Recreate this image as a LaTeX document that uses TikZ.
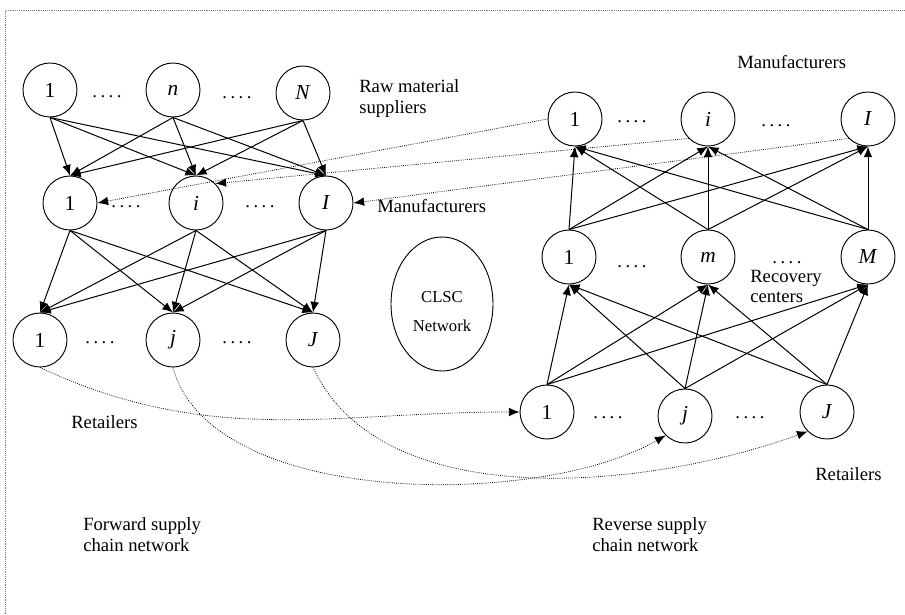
\documentclass[tikz,border=0pt]{standalone}
\usepackage{fontspec}
\setmainfont{Liberation Serif}
\usetikzlibrary{arrows.meta,shapes.geometric}

\tikzset{
	netnode/.style={draw, circle, minimum size=40.5pt, inner sep=0pt, line width=0.7pt, font=\fontsize{16}{18}\selectfont},
	flow/.style={-{Latex[length=8pt,width=6.5pt]}, line width=0.75pt},
	revlink/.style={-{Latex[length=8pt,width=6.5pt]}, densely dotted, line width=0.6pt},
	lbl/.style={anchor=north west, inner sep=0pt, align=left, font=\fontsize{14}{15.75}\selectfont},
	gap/.style={anchor=base, inner sep=0pt, font=\fontsize{14}{16}\selectfont},
	hub/.style={draw, ellipse, minimum width=76.5pt, minimum height=100.5pt, line width=0.7pt},
}
\newcommand{\fourdots}{.\kern2.6pt.\kern2.6pt.\kern2.6pt.}

\begin{document}
\begin{tikzpicture}[x=0.75pt, y=-0.75pt]
	\useasboundingbox (0,0) rectangle (905,614);
	\draw[densely dotted, gray] (5,614) -- (5,10) -- (905,10);

	% forward supply chain
	\node[netnode] (sup1) at (50,90) {1};
	\node[netnode] (supn) at (173,90) {\textit{n}};
	\node[netnode] (supN) at (303,93) {\textit{N}};
	\node[netnode] (man1) at (70,203) {1};
	\node[netnode] (mani) at (196,203) {\textit{i}};
	\node[netnode] (manI) at (326,203) {\textit{I}};
	\node[netnode] (ret1) at (40,340) {1};
	\node[netnode] (retj) at (173,340) {\textit{j}};
	\node[netnode] (retJ) at (313,340) {\textit{J}};
	\node[gap] at (107,97) {\fourdots};
	\node[gap] at (237,98) {\fourdots};
	\node[gap] at (126,207) {\fourdots};
	\node[gap] at (260,207) {\fourdots};
	\node[gap] at (100,343) {\fourdots};
	\node[gap] at (237,343) {\fourdots};
	\foreach \a in {sup1,supn,supN} \foreach \b in {man1,mani,manI} \draw[flow] (\a.south) -- (\b.north);
	\foreach \a in {man1,mani,manI} \foreach \b in {ret1,retj,retJ} \draw[flow] (\a.south) -- (\b.north);

	% reverse supply chain
	\node[netnode] (rman1) at (575,119) {1};
	\node[netnode] (rmani) at (708,119) {\textit{i}};
	\node[netnode] (rmanI) at (868,119) {\textit{I}};
	\node[netnode] (rec1) at (569,257) {1};
	\node[netnode] (recm) at (708,257) {\textit{m}};
	\node[netnode] (recM) at (868,257) {\textit{M}};
	\node[netnode] (rret1) at (547,412) {1};
	\node[netnode] (rretj) at (685,416) {\textit{j}};
	\node[netnode] (rretJ) at (827,412) {\textit{J}};
	\node[gap] at (632,122) {\fourdots};
	\node[gap] at (776,126) {\fourdots};
	\node[gap] at (632,267) {\fourdots};
	\node[gap] at (787,263) {\fourdots};
	\node[gap] at (608,418) {\fourdots};
	\node[gap] at (750,418) {\fourdots};
	\foreach \a in {rec1,recm,recM} \foreach \b in {rman1,rmani,rmanI} \draw[flow] (\a.north) -- (\b.south);
	\foreach \a in {rret1,rretj,rretJ} \foreach \b in {rec1,recm,recM} \draw[flow] (\a.north) -- (\b.south);

	% links between the two networks
	\draw[revlink] (rman1.west) -- (man1.east);
	\draw[revlink] (rmani.south west) -- (mani.north east);
	\draw[revlink] (rmanI.south west) -- (manI.east);
	\draw[revlink] (ret1.south) to[out=-25, in=180] (rret1.west);
	\draw[revlink] (retj.south) to[out=-75, in=-150, looseness=0.75] (rretj.south west);
	\draw[revlink] (retJ.south) to[out=-65, in=-160, looseness=0.85] (rretJ.south west);

	% labels
	\node[hub] (clsc) at (442,304) {};
	\node[align=center, inner sep=0pt, font=\fontsize{12.5}{21.75}\selectfont] at (442,312) {CLSC\\Network};
	\node[lbl] at (359,79) {Raw material\\suppliers};
	\node[lbl] at (377,199) {Manufacturers};
	\node[lbl] at (737,55) {Manufacturers};
	\node[lbl, font=\fontsize{14}{15}\selectfont] at (750,270) {Recovery\\centers};
	\node[lbl] at (71,415) {Retailers};
	\node[lbl] at (815,467) {Retailers};
	\node[lbl] at (83,517) {Forward supply\\chain network};
	\node[lbl] at (592,517) {Reverse supply\\chain network};
\end{tikzpicture}
\end{document}
